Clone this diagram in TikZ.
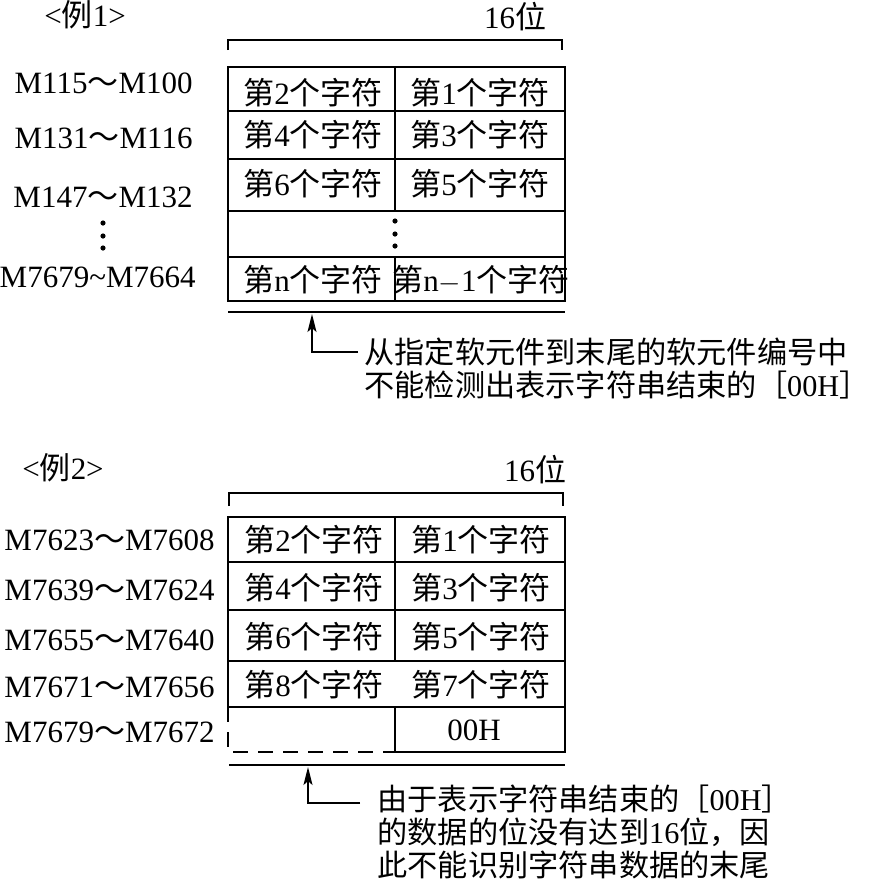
\documentclass[tikz,border=0pt]{standalone}
\usepackage{fontspec}
\setmainfont{Liberation Serif}
\newfontfamily\cjk{Noto Sans CJK SC}
\usetikzlibrary{positioning, arrows.meta}
\newcommand{\zf}[1]{{\cjk 第}#1{\cjk 个字符}}
\newcommand{\mrange}[2]{M#1{\cjk ～}M#2}

\begin{document}
\begin{tikzpicture}[x=0.5pt, y=-0.5pt,
  txt/.style={font=\fontsize{15.5}{18}\selectfont, inner sep=0pt},
  addr/.style={txt, anchor=east},
  note/.style={txt, align=left, anchor=west, font=\fontsize{15.1}{16.3}\selectfont\cjk},
  frame/.style={line width=1pt},
  gap/.style={line width=1pt, dash pattern=on 7.5pt off 5pt},
  pointer/.style={line width=1pt, -{Stealth[length=9pt, width=4.5pt, inset=2pt]}}
]
\useasboundingbox (0,0) rectangle (870,879);

\node[txt] (ex1) at (85,15) {<{\cjk 例}1>};
\node[txt] (w1) at (515,17) {16{\cjk 位}};
\draw[frame] (228,50) -- (228,40) -- (562,40) -- (562,50);

\draw[frame] (228,67) rectangle (565,301);
\foreach \y in {111,159,211,257} \draw[frame] (228,\y) -- (565,\y);
\draw[frame] (395,67) -- (395,211);
\draw[frame] (395,257) -- (395,301);

\node[addr] (a11) at (193,83) {\mrange{115}{100}};
\node[addr] (a12) at (193,138) {\mrange{131}{116}};
\node[addr] (a13) at (193,197) {\mrange{147}{132}};
\node[addr] (a15) at (196,277) {M7679\textasciitilde M7664};
\foreach \y in {223,236,248} {
  \fill (103,\y) circle (1.3pt);
  \fill (395,\y-2) circle (1.3pt);
}

\node[txt] (c11) at (313,93) {\zf{2}};
\node[txt] (c12) at (480,93) {\zf{1}};
\node[txt] (c21) at (313,135) {\zf{4}};
\node[txt] (c22) at (480,135) {\zf{3}};
\node[txt] (c31) at (313,184) {\zf{6}};
\node[txt] (c32) at (480,184) {\zf{5}};
\node[txt] (c51) at (313,280) {\zf{n}};
\node[txt] (c52) at (481,280) {\zf{n$-$1}};

\draw[frame] (228,312) -- (565,312);
\coordinate (tip1) at (312,314);
\coordinate (tail1) at (358,352);
\draw[pointer] (tail1) -| (tip1);
\node[note] (n1) at (364,368.5) {从指定软元件到末尾的软元件编号中\\不能检测出表示字符串结束的［{\rmfamily 00H}］};

\node[txt] (ex2) at (63,468) {<{\cjk 例}2>};
\node[txt] (w2) at (535,470) {16{\cjk 位}};
\draw[frame] (229,506) -- (229,493) -- (563,493) -- (563,506);

\draw[frame] (228,707) -- (228,517) -- (565,517) -- (565,752) -- (395,752);
\draw[gap] (228,707) -- (228,752) -- (395,752);
\foreach \y in {562,610,661,707} \draw[frame] (228,\y) -- (565,\y);
\draw[frame] (395,517) -- (395,661);
\draw[frame] (395,707) -- (395,752);

\node[addr] (a21) at (215,540) {\mrange{7623}{7608}};
\node[addr] (a22) at (215,590) {\mrange{7639}{7624}};
\node[addr] (a23) at (215,640) {\mrange{7655}{7640}};
\node[addr] (a24) at (215,687) {\mrange{7671}{7656}};
\node[addr] (a25) at (215,732) {\mrange{7679}{7672}};

\node[txt] (d11) at (314,540) {\zf{2}};
\node[txt] (d12) at (481,540) {\zf{1}};
\node[txt] (d21) at (314,588) {\zf{4}};
\node[txt] (d22) at (481,588) {\zf{3}};
\node[txt] (d31) at (314,637) {\zf{6}};
\node[txt] (d32) at (481,637) {\zf{5}};
\node[txt] (d41) at (314,685) {\zf{8}};
\node[txt] (d42) at (481,685) {\zf{7}};
\node[txt] (d52) at (474,730) {00H};

\draw[frame] (229,765) -- (565,765);
\coordinate (tip2) at (308,767);
\coordinate (tail2) at (360,803);
\draw[pointer] (tail2) -| (tip2);
\node[note] (n2) at (377,832) {由于表示字符串结束的［{\rmfamily 00H}］\\的数据的位没有达到{\rmfamily 16}位，因\\此不能识别字符串数据的末尾};
\end{tikzpicture}
\end{document}
